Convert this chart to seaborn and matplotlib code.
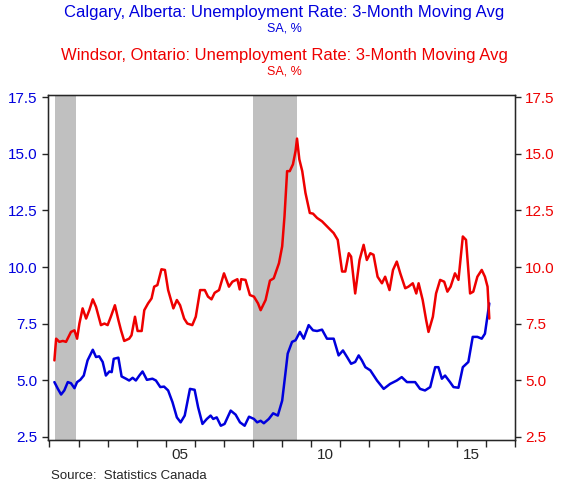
import matplotlib
matplotlib.use("Agg")
import matplotlib.pyplot as plt
import seaborn as sns
import pandas as pd

red_t = [2001.17,2001.23,2001.34,2001.46,2001.57,2001.74,2001.86,2001.95,2002.03,2002.14,2002.26,2002.37,2002.49,2002.60,2002.77,2002.89,2003.00,2003.11,2003.25,2003.37,2003.46,2003.57,2003.74,2003.82,2003.94,2004.03,2004.17,2004.26,2004.39,2004.51,2004.60,2004.71,2004.85,2004.97,2005.08,2005.26,2005.38,2005.49,2005.63,2005.74,2005.91,2006.03,2006.18,2006.34,2006.45,2006.57,2006.68,2006.83,2007.00,2007.17,2007.29,2007.46,2007.54,2007.59,2007.74,2007.89,2008.03,2008.17,2008.26,2008.43,2008.58,2008.71,2008.89,2009.00,2009.08,2009.17,2009.26,2009.37,2009.46,2009.51,2009.59,2009.69,2009.80,2009.95,2010.06,2010.20,2010.37,2010.60,2010.77,2010.91,2011.06,2011.17,2011.29,2011.37,2011.51,2011.66,2011.80,2011.91,2012.03,2012.14,2012.28,2012.43,2012.54,2012.69,2012.81,2012.94,2013.06,2013.23,2013.34,2013.49,2013.61,2013.69,2013.83,2013.95,2014.03,2014.18,2014.29,2014.43,2014.57,2014.68,2014.79,2014.94,2015.06,2015.21,2015.32,2015.46,2015.57,2015.71,2015.86,2015.97,2016.06,2016.12]
red_v = [5.87,6.83,6.69,6.73,6.69,7.13,7.20,6.83,7.50,8.17,7.72,8.09,8.57,8.24,7.43,7.50,7.43,7.80,8.31,7.65,7.20,6.73,6.83,6.98,7.80,7.17,7.17,8.09,8.39,8.61,9.13,9.20,9.90,9.87,8.98,8.17,8.54,8.31,7.72,7.50,7.43,7.80,8.98,8.98,8.69,8.57,8.86,8.98,9.72,9.13,9.35,9.46,9.01,9.46,9.43,8.76,8.69,8.39,8.09,8.54,9.40,9.50,10.17,10.91,12.24,14.24,14.24,14.54,15.13,15.68,14.76,14.24,13.28,12.39,12.36,12.17,12.02,11.72,11.50,11.20,9.80,9.80,10.61,10.46,8.83,10.31,10.98,10.31,10.61,10.54,9.57,9.28,9.57,8.98,9.87,10.24,9.72,9.06,9.13,9.28,8.83,9.28,8.54,7.65,7.13,7.80,8.83,9.43,9.35,8.91,9.13,9.72,9.43,11.35,11.20,8.83,8.91,9.57,9.87,9.57,9.13,7.72]

blue_t = [2001.17,2001.29,2001.40,2001.51,2001.63,2001.74,2001.86,2001.95,2002.06,2002.18,2002.31,2002.49,2002.60,2002.71,2002.83,2002.94,2003.06,2003.14,2003.21,2003.37,2003.48,2003.63,2003.74,2003.86,2003.97,2004.09,2004.20,2004.35,2004.54,2004.66,2004.81,2004.94,2005.08,2005.23,2005.38,2005.51,2005.65,2005.83,2005.99,2006.11,2006.26,2006.41,2006.54,2006.63,2006.75,2006.89,2007.02,2007.23,2007.40,2007.55,2007.71,2007.86,2008.03,2008.14,2008.26,2008.37,2008.54,2008.69,2008.85,2009.00,2009.11,2009.19,2009.34,2009.46,2009.61,2009.74,2009.91,2010.06,2010.20,2010.37,2010.54,2010.77,2010.94,2011.09,2011.23,2011.37,2011.51,2011.63,2011.74,2011.86,2012.03,2012.26,2012.49,2012.71,2012.94,2013.11,2013.29,2013.57,2013.74,2013.91,2014.09,2014.26,2014.37,2014.49,2014.60,2014.77,2014.89,2015.06,2015.21,2015.40,2015.55,2015.71,2015.86,2015.97,2016.12]
blue_v = [4.91,4.61,4.36,4.54,4.91,4.86,4.64,4.91,5.01,5.20,5.87,6.34,6.02,6.05,5.80,5.20,5.38,5.35,5.94,5.99,5.16,5.06,4.98,5.10,4.98,5.20,5.38,5.01,5.06,4.98,4.69,4.71,4.54,4.02,3.35,3.13,3.43,4.61,4.57,3.80,3.06,3.28,3.43,3.28,3.35,2.98,3.06,3.65,3.47,3.13,2.98,3.38,3.28,3.13,3.20,3.09,3.28,3.53,3.43,4.09,5.28,6.17,6.69,6.76,7.13,6.83,7.43,7.20,7.17,7.23,6.83,6.83,6.09,6.31,6.02,5.72,5.80,6.09,5.87,5.57,5.43,4.98,4.61,4.83,4.98,5.13,4.91,4.91,4.61,4.54,4.69,5.57,5.57,5.06,5.20,4.91,4.69,4.66,5.57,5.80,6.91,6.91,6.83,7.05,8.39]

recessions = [(2001.2, 2001.9), (2008.0, 2009.5)]
yticks = [2.5, 5.0, 7.5, 10.0, 12.5, 15.0, 17.5]
xlabel_years = [2005, 2010, 2015]
xlabels = ["05", "10", "15"]

sns.set_style("white")
plt.rcParams['font.family'] = ['Liberation Sans', 'DejaVu Sans']

fig = plt.figure(figsize=(5.68, 4.88), dpi=100)
ax = fig.add_axes([0.0845, 0.0984, 0.822, 0.7066])
ax2 = ax.twinx()

for a, b in recessions:
    ax.axvspan(a, b, color="#c0c0c0", lw=0, zorder=0)

sns.lineplot(x=blue_t, y=blue_v, ax=ax, color="#0000dd", lw=1.8)
sns.lineplot(x=red_t, y=red_v, ax=ax2, color="#ee0000", lw=1.8)

for a in (ax, ax2):
    a.set_xlim(2000.95, 2017.0)
    a.set_ylim(2.35, 17.6)
    a.set_yticks(yticks)
for s in ax.spines.values():
    s.set_color("black"); s.set_linewidth(1)
ax.set_yticklabels([f"{v:.1f}" for v in yticks], color="#0000dd", fontsize=11)
ax2.set_yticklabels([f"{v:.1f}" for v in yticks], color="#ee0000", fontsize=11)
ax.tick_params(axis="y", direction="out", length=4, width=1, left=True)
ax2.tick_params(axis="y", direction="out", length=4, width=1, right=True)

ax.set_xticks(list(range(2001, 2018)), minor=True)
ax.set_xticks([y + 0.5 for y in xlabel_years])
ax.set_xticklabels(xlabels, fontsize=11)
ax.tick_params(axis="x", which="major", length=0, pad=6)
ax.tick_params(axis="x", which="minor", direction="out", length=5, width=1, bottom=True)

fig.text(0.5, 0.965, "Calgary, Alberta: Unemployment Rate: 3-Month Moving Avg", color="#0000dd", ha="center", fontsize=12)
fig.text(0.5, 0.935, "SA, %", color="#0000dd", ha="center", fontsize=9)
fig.text(0.5, 0.877, "Windsor, Ontario: Unemployment Rate: 3-Month Moving Avg", color="#ee0000", ha="center", fontsize=12)
fig.text(0.5, 0.847, "SA, %", color="#ee0000", ha="center", fontsize=9)
fig.text(0.09, 0.018, "Source:  Statistics Canada", fontsize=9.5)

fig.savefig("out.png", dpi=100)
